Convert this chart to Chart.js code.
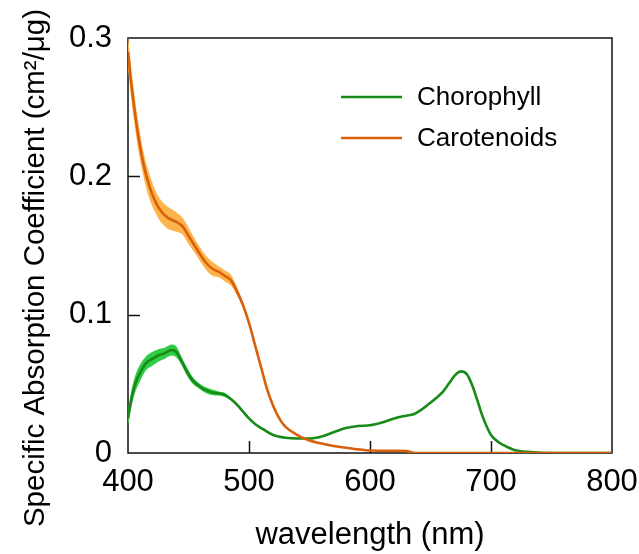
<!DOCTYPE html>
<html><head><meta charset="utf-8">
<script src="https://cdn.jsdelivr.net/npm/chart.js@4"></script>
<style>html,body{margin:0;padding:0;background:#fff;}</style>
</head><body>
<canvas id="c" width="639" height="554"></canvas>
<script>
// ---- Data ----
const carWavelength = [400,403,408,413,418,423,428,433,440,445,450,455,460,465,470,475,480,485,490,495,500,505,510,515,520,525,530,540,550,560,570,580,590,600,620,630,635,640,700,800];
const carotenoids   = [0.290,0.265,0.232,0.208,0.192,0.181,0.174,0.170,0.167,0.164,0.157,0.150,0.143,0.137,0.133,0.131,0.128,0.125,0.117,0.107,0.094,0.078,0.062,0.046,0.034,0.025,0.019,0.013,0.009,0.0068,0.005,0.0038,0.0026,0.0018,0.0016,0.0014,0.0004,0,0,0];
const carotenoidsLow  = [0.278,0.254,0.222,0.199,0.183,0.173,0.166,0.162,0.160,0.158,0.151,0.145,0.138,0.132,0.128,0.127,0.124,0.121,0.114,0.105,0.0925,0.077,0.061,0.0455,0.0335,0.0247,0.0187,0.0127,0.0087,0.0066,0.0048,0.0036,0.0024,0.0016,0.0014,0.0012,0.0002,0,0,0];
const carotenoidsHigh = [0.302,0.276,0.242,0.217,0.201,0.189,0.182,0.178,0.174,0.170,0.163,0.155,0.148,0.142,0.138,0.135,0.132,0.129,0.120,0.109,0.0955,0.079,0.063,0.0465,0.0345,0.0253,0.0193,0.0133,0.0093,0.007,0.0052,0.004,0.0028,0.002,0.0018,0.0016,0.0006,0,0,0];

const chlWavelength = [400,403,406,410,415,420,425,430,436,440,444,448,453,458,463,469,475,480,485,490,495,500,505,512,520,530,540,550,560,570,580,590,600,610,620,630,636,642,648,655,660,665,670,675,680,684,688,692,696,700,706,713,720,730,740,750,800];
const chlorophyll   = [0.025,0.040,0.050,0.058,0.065,0.068,0.0705,0.072,0.0745,0.073,0.067,0.060,0.053,0.049,0.046,0.044,0.043,0.042,0.039,0.035,0.030,0.025,0.021,0.017,0.013,0.011,0.0105,0.0105,0.012,0.015,0.018,0.0195,0.020,0.022,0.025,0.027,0.028,0.031,0.035,0.040,0.044,0.050,0.056,0.059,0.057,0.050,0.040,0.029,0.020,0.013,0.008,0.0045,0.002,0.0008,0.0003,0,0];
const chlorophyllLow  = [0.020,0.034,0.044,0.052,0.060,0.063,0.066,0.068,0.0705,0.069,0.064,0.057,0.0505,0.047,0.044,0.042,0.0415,0.0405,0.038,0.034,0.0293,0.0242,0.0205,0.0167,0.0127,0.0107,0.0102,0.0102,0.0117,0.0147,0.0177,0.0192,0.0197,0.0217,0.0247,0.0267,0.0277,0.0307,0.0347,0.0397,0.0437,0.0497,0.0557,0.0587,0.0567,0.0497,0.0397,0.0287,0.0197,0.0127,0.0077,0.0042,0.0017,0.0006,0.0001,0,0];
const chlorophyllHigh = [0.030,0.046,0.056,0.064,0.070,0.073,0.075,0.076,0.0785,0.077,0.070,0.063,0.0555,0.051,0.048,0.046,0.0445,0.0435,0.040,0.036,0.0307,0.0258,0.0215,0.0173,0.0133,0.0113,0.0108,0.0108,0.0123,0.0153,0.0183,0.0198,0.0203,0.0223,0.0253,0.0273,0.0283,0.0313,0.0353,0.0403,0.0443,0.0503,0.0563,0.0593,0.0573,0.0503,0.0403,0.0293,0.0203,0.0133,0.0083,0.0048,0.0023,0.001,0.0005,0,0];

const seriesNames = ['Chorophyll', 'Carotenoids'];
const xTickLabels = ['400','500','600','700','800'];
const yTickLabels = ['0','0.1','0.2','0.3'];
const xTitle = 'wavelength (nm)';
const yTitle = 'Specific Absorption Coefficient (cm\u00B2/\u03BCg)';

// ---- Styles ----
const GREEN = '#178a17', GREEN_BAND = '#2fcc45';
const ORANGE = '#d8600a', ORANGE_BAND = '#fdb44c';
const FONT = '"Liberation Sans", Arial, sans-serif';

const pts = (xs, ys) => xs.map((x, i) => ({x: x, y: ys[i]}));

const bandStyle = {borderWidth: 0, pointRadius: 0, tension: 0.4, cubicInterpolationMode: 'monotone'};
const lineStyle = {borderWidth: 2.6, pointRadius: 0, tension: 0.4, cubicInterpolationMode: 'monotone', fill: false};

const frameTicks = {
  id: 'frameTicks',
  beforeDatasetsDraw(chart) {
    const {ctx, chartArea: a, scales: {x, y}} = chart;
    ctx.save();
    ctx.strokeStyle = '#111';
    ctx.lineWidth = 1.5;
    ctx.strokeRect(a.left, a.top, a.right - a.left, a.bottom - a.top);
    [500, 600, 700].forEach(v => {
      const px = Math.round(x.getPixelForValue(v)) + 0.5;
      ctx.beginPath(); ctx.moveTo(px, a.bottom); ctx.lineTo(px, a.bottom - 12); ctx.stroke();
    });
    [0.1, 0.2].forEach(v => {
      const py = Math.round(y.getPixelForValue(v)) + 0.5;
      ctx.beginPath(); ctx.moveTo(a.left, py); ctx.lineTo(a.left + 12, py); ctx.stroke();
    });
    ctx.restore();
  },
  afterDraw(chart) {
    const {ctx} = chart;
    ctx.save();
    // y title
    ctx.translate(36, 268);
    ctx.rotate(-Math.PI / 2);
    ctx.fillStyle = '#000';
    ctx.font = '29.5px ' + FONT;
    ctx.textAlign = 'center';
    ctx.textBaseline = 'middle';
    ctx.fillText(yTitle, 0, 0);
    ctx.restore();
    // legend
    ctx.save();
    const items = [{c: GREEN, t: seriesNames[0], y: 97}, {c: ORANGE, t: seriesNames[1], y: 138}];
    items.forEach(it => {
      ctx.strokeStyle = it.c; ctx.lineWidth = 2.6;
      ctx.beginPath(); ctx.moveTo(341, it.y); ctx.lineTo(402, it.y); ctx.stroke();
      ctx.fillStyle = '#000'; ctx.font = '26px ' + FONT;
      ctx.textAlign = 'left'; ctx.textBaseline = 'middle';
      ctx.fillText(it.t, 417, it.y + 1);
    });
    ctx.restore();
  }
};

new Chart(document.getElementById('c'), {
  type: 'line',
  data: {
    datasets: [
      Object.assign({label: 'carHigh', data: pts(carWavelength, carotenoidsHigh), backgroundColor: ORANGE_BAND, fill: '+1', order: 3}, bandStyle),
      Object.assign({label: 'carLow', data: pts(carWavelength, carotenoidsLow), backgroundColor: ORANGE_BAND, fill: false, order: 3}, bandStyle),
      Object.assign({label: 'chlHigh', data: pts(chlWavelength, chlorophyllHigh), backgroundColor: GREEN_BAND, fill: '+1', order: 4}, bandStyle),
      Object.assign({label: 'chlLow', data: pts(chlWavelength, chlorophyllLow), backgroundColor: GREEN_BAND, fill: false, order: 4}, bandStyle),
      Object.assign({label: seriesNames[0], data: pts(chlWavelength, chlorophyll), borderColor: GREEN, order: 1}, lineStyle),
      Object.assign({label: seriesNames[1], data: pts(carWavelength, carotenoids), borderColor: ORANGE, order: 0}, lineStyle)
    ]
  },
  options: {
    responsive: false,
    animation: false,
    devicePixelRatio: 1,
    layout: {padding: {left: 0, right: 27, top: 38, bottom: 0}},
    plugins: {legend: {display: false}, tooltip: {enabled: false}},
    scales: {
      x: {
        type: 'linear', min: 400, max: 800,
        grid: {display: false, drawTicks: false, tickLength: 0},
        border: {display: false},
        ticks: {stepSize: 100, padding: 11, color: '#000', font: {family: FONT, size: 31}, maxRotation: 0,
                callback: v => xTickLabels[Math.round((v - 400) / 100)]},
        title: {display: true, text: xTitle, color: '#000', font: {family: FONT, size: 31}, padding: {top: 0, bottom: 0}},
        afterFit: s => { s.height = 101; s.paddingLeft = 0; s.paddingRight = 0; }
      },
      y: {
        type: 'linear', min: 0, max: 0.3,
        grid: {display: false, drawTicks: false, tickLength: 0},
        border: {display: false},
        ticks: {stepSize: 0.1, padding: 16, color: '#000', font: {family: FONT, size: 31},
                callback: v => yTickLabels[Math.round(v * 10)]},
        afterFit: s => { s.width = 128; s.paddingTop = 0; s.paddingBottom = 0; }
      }
    }
  },
  plugins: [frameTicks]
});
</script>
</body></html>
